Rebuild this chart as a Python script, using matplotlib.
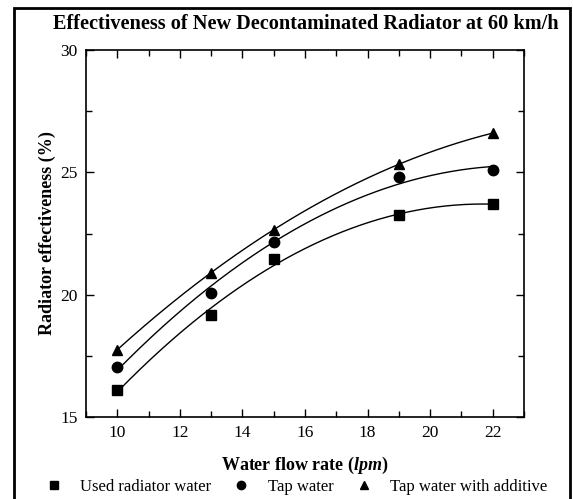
import matplotlib.pyplot as plt
import numpy as np
from matplotlib.patches import Rectangle
from matplotlib.ticker import MultipleLocator

plt.rcParams['font.family'] = ['Liberation Serif', 'DejaVu Serif']
plt.rcParams['mathtext.fontset'] = 'custom'
plt.rcParams['mathtext.it'] = 'Liberation Serif:italic:bold'

# water flow rate (lpm)
flow = np.array([10, 13, 15, 19, 22])

used_water = np.array([16.1, 19.17, 21.45, 23.25, 23.7])
tap_water = np.array([17.05, 20.07, 22.16, 24.8, 25.1])
tap_additive = np.array([17.75, 20.9, 22.65, 25.34, 26.6])

series = [
    ("Used radiator water", used_water, "s"),
    ("Tap water", tap_water, "o"),
    ("Tap water with additive", tap_additive, "^"),
]

fig = plt.figure(figsize=(5.73, 4.99), dpi=100)
ax = fig.add_axes([0.150, 0.1643, 0.7645, 0.7355])

xs = np.linspace(flow.min(), flow.max(), 200)
for name, y, m in series:
    # 2nd order polynomial fit, like the original
    c = np.polyfit(flow, y, 2)
    ax.plot(xs, np.polyval(c, xs), color="black", linewidth=1)
    ax.plot(flow, y, linestyle="none", marker=m, color="black",
            markersize=7.5, label=name)

ax.set_xlim(9, 23)
ax.set_ylim(15, 30)
ax.xaxis.set_major_locator(MultipleLocator(2))
ax.xaxis.set_minor_locator(MultipleLocator(1))
ax.yaxis.set_major_locator(MultipleLocator(5))
ax.yaxis.set_minor_locator(MultipleLocator(2.5))
ax.tick_params(which="both", direction="in", top=True, right=True,
               labelsize=12.5, width=1)
ax.tick_params(which="major", length=6, pad=6)
ax.tick_params(which="minor", length=4)
ax.tick_params(axis="x", which="both", labeltop=False)
for s in ax.spines.values():
    s.set_linewidth(1.2)

ax.set_xlabel(r"Water flow rate ($lpm$)", fontsize=13, fontweight="bold",
              labelpad=10)
ax.set_ylabel("Radiator effectiveness (%)", fontsize=13, fontweight="bold",
              labelpad=3)

fig.text(0.534, 0.952, "Effectiveness of New Decontaminated Radiator at 60 km/h",
         ha="center", va="center", fontsize=14.6, fontweight="bold")

fig.legend(loc="center", bbox_to_anchor=(0.51, 0.025), ncol=3, frameon=False,
           fontsize=12, handletextpad=0.6, columnspacing=0.8, markerscale=0.8)

# frame around the whole figure
fig.patches.append(Rectangle((14 / 573, -0.05), 556 / 573, 1.05 - 8 / 499,
                             transform=fig.transFigure, fill=False,
                             edgecolor="black", linewidth=2))

fig.savefig("out.png", dpi=100)
